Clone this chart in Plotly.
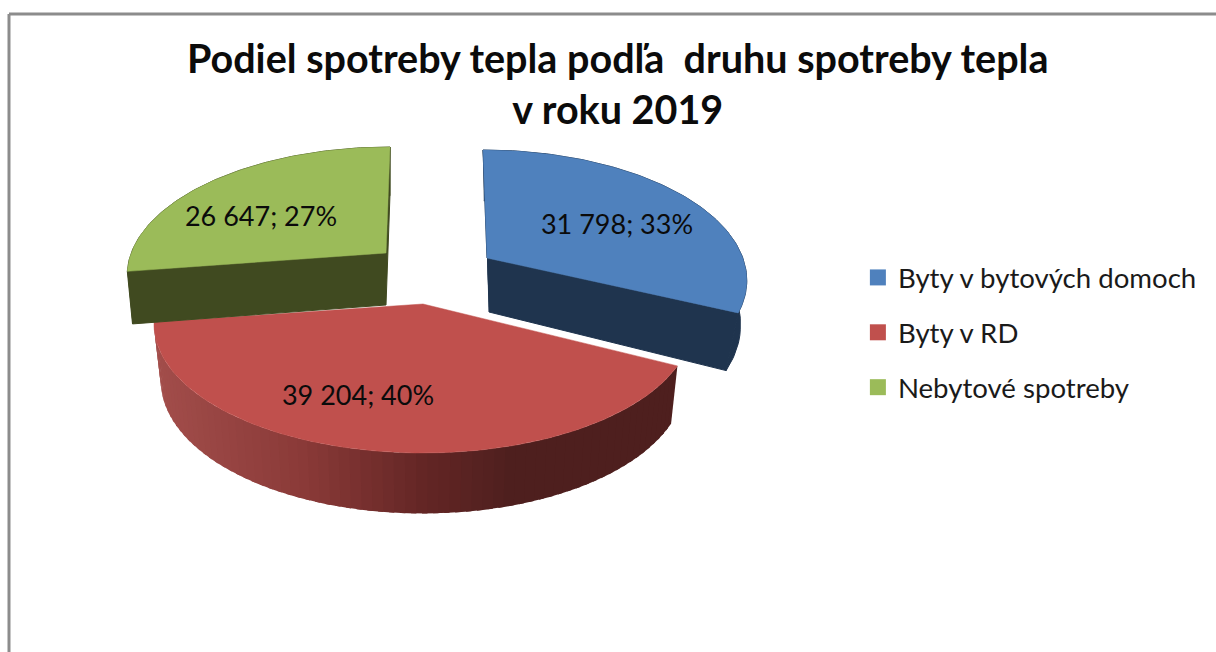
import math
import plotly.graph_objects as go

# ---- data ----
categories = ["Byty v bytových domoch", "Byty v RD", "Nebytové spotreby"]
values = [31798, 39204, 26647]
title_lines = ["Podiel spotreby tepla podľa\u00a0 druhu spotreby tepla", "v roku 2019"]

# ---- style / geometry of the exploded 3-D pie (canvas pixels) ----
top_colors = ["#4f81bd", "#c0504d", "#9bbb59"]
wall_colors = ["#1f344e", "#4e1f1e", "#404a20"]
slice_cfg = [
    dict(ax=487, ay=258, rx=259, ry=128, shear=0.037, bx=489, by=312, s=0.94, so=0.985, fx=537, turn=0.975),
    dict(ax=423, ay=304, rx=269, ry=129, shear=0.000, bx=423, by=358, s=0.975, so=0.975, fx=423, turn=1.0),
    dict(ax=386, ay=253, rx=258, ry=126, shear=-0.038, bx=386, by=305, s=0.98, so=0.98, fx=386, turn=1.0),
]
label_pos = [(617, 227), (358, 398), (261, 219)]
E = 0.156  # perspective shift of the centre inside the ellipse
RED_STOPS = [(150, (163, 78, 75)), (300, (138, 58, 56)), (420, (100, 38, 37)), (510, (78, 31, 30)), (700, (78, 31, 30))]


def rim(c, deg, bottom=False, blend=0.0):
    a = math.radians(deg)
    u, v = math.sin(a), -math.cos(a)
    d = 1 - E * v
    X = u * math.sqrt(1 - E * E) / d
    Y = (v - E) / d
    x = c["ax"] + c["rx"] * X
    y = c["ay"] + 20 + c["ry"] * Y
    x += c["shear"] * (y - c["ay"])
    if bottom:
        k = 1.03
        y = c["by"] + (y - c["ay"]) * k + (2 if Y > 0 else 0)
        s = c["s"] + (c["so"] - c["s"]) * blend
        x = c["fx"] + (x - c["fx"]) * s + (c["bx"] - c["ax"] if c["fx"] == c["ax"] else 0)
    return x, y


def arc(c, a0, a1, bottom=False, n=90):
    pts = []
    for i in range(n + 1):
        deg = a0 + (a1 - a0) * i / n
        # the outer rim bulges outwards away from the end of the slice
        blend = min(1.0, max(0.0, (a1 - deg) / 25.0)) if bottom else 0.0
        pts.append(rim(c, deg, bottom, blend))
    return [p[0] for p in pts], [p[1] for p in pts]


def apex(c, bottom=False):
    return (c["bx"], c["by"]) if bottom else (c["ax"], c["ay"])


def poly(fig, xs, ys, color, width=1):
    fig.add_trace(go.Scatter(x=xs, y=ys, mode="lines", fill="toself", fillcolor=color,
                             line=dict(color=color, width=width), hoverinfo="skip", showlegend=False))


def red_shade(x):
    for (x0, c0), (x1, c1) in zip(RED_STOPS, RED_STOPS[1:]):
        if x <= x1:
            t = max(0, (x - x0) / (x1 - x0))
            return "rgb(%d,%d,%d)" % tuple(round(p + (q - p) * t) for p, q in zip(c0, c1))
    return "rgb(78,31,30)"


total = sum(values)
spans = []
start = 0.0
for v in values:
    spans.append((start, start + 360 * v / total))
    start += 360 * v / total

fig = go.Figure()
for i, (a0, a1) in enumerate(spans):
    c = slice_cfg[i]
    a1 = a0 + (a1 - a0) * c["turn"]
    # walls: cut faces and outer rim
    if i == 1:
        n = 70
        for k in range(n):
            s0 = a0 + (a1 - a0) * k / n
            s1 = a0 + (a1 - a0) * (k + 1) / n
            s1x = min(a1, s1 + 1.0)  # overlap the next strip so that no seams show
            tx = [rim(c, s0 + (s1x - s0) * j / 3)[0] for j in range(4)]
            ty = [rim(c, s0 + (s1x - s0) * j / 3)[1] for j in range(4)]
            bx = [rim(c, s0 + (s1x - s0) * j / 3, True)[0] for j in range(4)]
            by = [rim(c, s0 + (s1x - s0) * j / 3, True)[1] for j in range(4)]
            poly(fig, tx + bx[::-1], ty + by[::-1], red_shade(sum(tx) / len(tx)), width=0)
    else:
        tx, ty = arc(c, a0, a1)
        bx, by = arc(c, a0, a1, True)
        poly(fig, tx + bx[::-1], ty + by[::-1], wall_colors[i])
        for ang in (a0, a1):
            p, q = rim(c, ang), rim(c, ang, True)
            poly(fig, [c["ax"], p[0], q[0], apex(c, True)[0]], [c["ay"], p[1], q[1], apex(c, True)[1]], wall_colors[i])
    # top face
    tx, ty = arc(c, a0, a1)
    poly(fig, [c["ax"]] + tx + [c["ax"]], [c["ay"]] + ty + [c["ay"]], top_colors[i], width=0.5)

# data labels
for i, v in enumerate(values):
    txt = f"{v:,}".replace(",", " ") + f"; {round(100 * v / total)}%"
    fig.add_trace(go.Scatter(x=[label_pos[i][0]], y=[label_pos[i][1]], mode="text", text=[txt],
                             textposition="middle center", textfont=dict(family="Lato", size=27, color="#0b0b0b"),
                             hoverinfo="skip", showlegend=False))

# legend
for i, name in enumerate(categories):
    fig.add_trace(go.Scatter(x=[None], y=[None], mode="markers", name=name, legendgroup=name,
                             marker=dict(symbol="square", size=16, color=top_colors[i])))

fig.update_layout(
    width=1216, height=652, margin=dict(l=0, r=0, t=0, b=0),
    paper_bgcolor="white", plot_bgcolor="white", showlegend=True,
    title=dict(text="<b>" + "<br>".join(title_lines) + "</b>", x=0.508, xanchor="center", y=0.888, yanchor="top",
               font=dict(family="Lato", size=39.5, color="#0b0b0b")),
    xaxis=dict(range=[0, 1216], visible=False, fixedrange=True),
    yaxis=dict(range=[652, 0], visible=False, fixedrange=True),
    legend=dict(x=0.7055, y=0.612, xanchor="left", yanchor="top", font=dict(family="Lato", size=27.6, color="#1a1a1a"),
                tracegroupgap=16, itemwidth=30, bgcolor="rgba(0,0,0,0)"),
    shapes=[
        dict(type="line", xref="paper", yref="paper", x0=0.0074, x1=1, y0=1 - 14 / 652, y1=1 - 14 / 652,
             line=dict(color="#8c8c8c", width=3)),
        dict(type="line", xref="paper", yref="paper", x0=0.0074, x1=0.0074, y0=0, y1=1 - 14 / 652,
             line=dict(color="#8c8c8c", width=3)),
    ],
)
fig.write_html("out.html", config=dict(displayModeBar=False),
               post_script="document.body.style.margin='0';")
